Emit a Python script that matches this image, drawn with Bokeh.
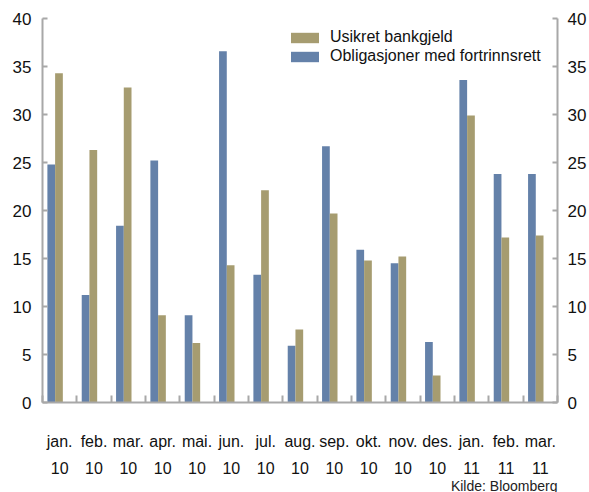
from bokeh.plotting import figure
from bokeh.models import (Range1d, LinearAxis, FixedTicker, Legend, LegendItem,
                          Title, ColumnDataSource)
from bokeh.transform import dodge
from bokeh.embed import file_html
from bokeh.resources import INLINE

months = ["jan.", "feb.", "mar.", "apr.", "mai.", "jun.", "jul.", "aug.",
          "sep.", "okt.", "nov.", "des.", "jan.", "feb.", "mar."]
years = ["10"] * 12 + ["11"] * 3
usikret = [34.3, 26.3, 32.8, 9.1, 6.2, 14.3, 22.1, 7.6, 19.7, 14.8, 15.2, 2.8, 29.9, 17.2, 17.4]
oblig = [24.8, 11.2, 18.4, 25.2, 9.1, 36.6, 13.3, 5.9, 26.7, 15.9, 14.5, 6.3, 33.6, 23.8, 23.8]
y_ticks = [0, 5, 10, 15, 20, 25, 30, 35, 40]

OLIVE = "#A69C70"
BLUE = "#6481A9"
AXIS = "#A8A8A8"
FONT = "Liberation Sans"

n = len(months)
idx = list(range(n))
src = ColumnDataSource(dict(idx=idx, usikret=usikret, oblig=oblig))

p = figure(width=589, height=492, output_backend="svg", toolbar_location=None,
           x_range=Range1d(-0.5, n - 0.5), y_range=Range1d(0, 40),
           min_border_left=42, min_border_right=32, min_border_top=18,
           min_border_bottom=90, outline_line_color=None)
p.xgrid.visible = False
p.ygrid.visible = False

bw = 0.225
r_blue = p.vbar(x=dodge("idx", -0.245, range=p.x_range), top="oblig", width=bw,
                source=src, fill_color=BLUE, line_color=None)
r_olive = p.vbar(x=dodge("idx", -0.02, range=p.x_range), top="usikret", width=bw,
                 source=src, fill_color=OLIVE, line_color=None)

def style_y(ax):
    ax.ticker = FixedTicker(ticks=y_ticks)
    ax.axis_line_color = AXIS
    ax.axis_line_width = 2
    ax.major_tick_line_color = AXIS
    ax.major_tick_line_width = 2
    ax.major_tick_in = 5
    ax.major_tick_out = 0
    ax.minor_tick_line_color = None
    ax.major_label_text_font = FONT
    ax.major_label_text_font_size = "17px"
    ax.major_label_text_color = "#111111"

yl = p.yaxis[0]
style_y(yl)
yl.major_label_standoff = 11
yr = LinearAxis()
style_y(yr)
yr.major_label_standoff = 10
p.add_layout(yr, "right")

xa = p.xaxis[0]
xa.ticker = FixedTicker(ticks=idx, minor_ticks=[i - 0.5 for i in range(n + 1)])
xa.major_label_overrides = {i: f"{months[i]}\n{years[i]}" for i in idx}
xa.axis_line_color = AXIS
xa.axis_line_width = 2
xa.major_tick_line_color = None
xa.minor_tick_line_color = AXIS
xa.minor_tick_line_width = 2
xa.minor_tick_in = 7
xa.minor_tick_out = 0
xa.major_label_standoff = 24
xa.major_label_text_font = FONT
xa.major_label_text_font_size = "16px"
xa.major_label_text_line_height = 1.625
xa.major_label_text_color = "#111111"

legend = Legend(items=[LegendItem(label="Usikret bankgjeld", renderers=[r_olive]),
                       LegendItem(label="Obligasjoner med fortrinnsrett", renderers=[r_blue])],
                location=(245, 337), glyph_width=35, glyph_height=13, label_standoff=8,
                padding=0, margin=0, spacing=1, border_line_color=None,
                background_fill_alpha=0, label_text_font=FONT,
                label_text_font_size="16px", label_height=18,
                label_text_color="#111111")
p.add_layout(legend)

p.add_layout(Title(text="Kilde: Bloomberg", align="right", standoff=-6,
                   vertical_align="top",
                   text_font=FONT, text_font_size="14px", text_font_style="normal",
                   text_color="#222222"), "below")

open("out.html", "w").write(file_html(p, INLINE))
